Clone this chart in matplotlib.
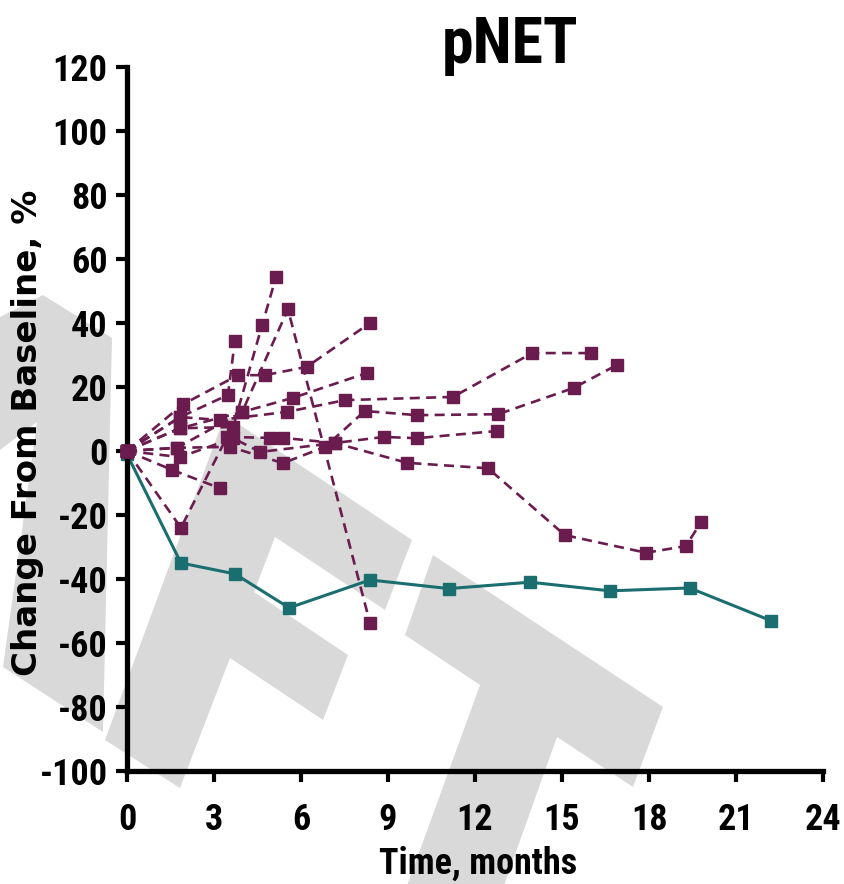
import matplotlib
matplotlib.use("Agg")
import matplotlib.pyplot as plt
from matplotlib.patches import Polygon
from matplotlib import font_manager as fm

W, H = 845, 884

# ---- data ----
x_ticks = [0, 3, 6, 9, 12, 15, 18, 21, 24]
y_ticks = [-100, -80, -60, -40, -20, 0, 20, 40, 60, 80, 100, 120]

median_x = [0, 1.86, 3.72, 5.59, 8.38, 11.1, 13.9, 16.65, 19.4, 22.2]
median_y = [-1, -35, -38.4, -49, -40.3, -43, -41, -43.7, -42.8, -53]

pt_x = [
    [0, 1.93, 3.83, 4.76, 6.2, 8.38],
    [0, 1.83, 3.48, 3.72],
    [0, 1.83, 3.66, 4.66, 5.14],
    [0, 1.72, 3.97, 5.55, 8.38],
    [0, 1.83, 3.2, 5.5, 7.52, 11.24, 13.97, 16.0],
    [0, 1.83, 3.97, 5.72, 8.28],
    [0, 1.55, 3.2],
    [0, 1.86, 3.45, 4.93, 5.38, 7.17, 8.86, 9.99, 12.76],
    [0, 1.72, 3.55, 5.38, 6.83, 8.2, 10.0, 12.8, 15.4, 16.9],
    [0, 1.83, 3.66, 4.59, 7.17, 9.66, 12.45, 15.1, 17.9, 19.27, 19.8],
]
pt_y = [
    [0, 14.6, 23.7, 23.7, 26.3, 40],
    [0, 10.6, 17.5, 34.4],
    [0, 7.1, 7.5, 39.4, 54.4],
    [0, 1.0, 12.2, 44.3, -53.8],
    [0, 10.6, 9.7, 12.2, 15.9, 16.9, 30.6, 30.6],
    [0, 7.1, 12.2, 16.6, 24.4],
    [0, -5.9, -11.6],
    [0, -24, 4.4, 4.1, 4.1, 2.5, 4.4, 4.0, 6.25],
    [0, 1.0, 1.3, -3.8, 1.3, 12.5, 11.2, 11.5, 19.7, 26.9],
    [0, -1.9, 4.0, -0.3, 2.5, -3.7, -5.4, -26.3, -31.8, -29.7, -22.2],
]

PURPLE = "#6B1C4E"
TEAL = "#1B6E70"

# pick a condensed bold face if one is installed
names = {f.name for f in fm.fontManager.ttflist}
cond = None
for cand in ["Liberation Sans Narrow", "Arial Narrow", "Roboto Condensed",
             "Open Sans Condensed", "DejaVu Sans Condensed"]:
    if cand in names:
        cond = cand
        break
if cond is None:
    narrow_faces = [f for f in fm.fontManager.ttflist
                    if isinstance(f.stretch, str) and "condensed" in f.stretch]
    if narrow_faces:
        cond = narrow_faces[0].name
if cond is None:
    NARROW = ["Liberation Sans", "DejaVu Sans"]
    scale = 0.86
else:
    NARROW = [cond, "Liberation Sans", "DejaVu Sans"]
    scale = 1.0

fig = plt.figure(figsize=(W / 100, H / 100), dpi=100)

# ---- background watermark shapes (decoration, image px) ----
wm_shapes = [
    [(0, 317), (43, 295), (112, 338), (103, 732), (3, 667), (37, 422), (0, 450)],
    [(225, 415), (412, 540), (385, 610), (275, 537), (254, 592), (348, 655),
     (323, 720), (230, 658), (180, 788), (105, 740)],
    [(433, 555), (663, 707), (633, 787), (557, 737), (497, 905), (400, 905),
     (480, 685), (405, 635)],
]
for shp in wm_shapes:
    pts = [(px / W, 1 - py / H) for px, py in shp]
    fig.add_artist(Polygon(pts, closed=True, transform=fig.transFigure,
                           facecolor="#D9D9D9", edgecolor="none", zorder=-1))

ax = fig.add_axes([127 / W, 1 - 771 / H, (823 - 127) / W, (771 - 67) / H])
ax.patch.set_alpha(0)

ax.plot(median_x, median_y, color=TEAL, lw=2.2, marker="s", markersize=8,
        markerfacecolor=TEAL, markeredgecolor=TEAL, clip_on=False, zorder=2)

for xs, ys in zip(pt_x, pt_y):
    ax.plot(xs, ys, color=PURPLE, lw=1.9, ls=(0, (3.8, 2.4)), marker="s",
            markersize=8, markerfacecolor=PURPLE, markeredgecolor=PURPLE,
            clip_on=False, zorder=3)

ax.set_xlim(0, 24)
ax.set_ylim(-100, 120)
ax.set_xticks(x_ticks)
ax.set_yticks(y_ticks)
tfs = 26 * scale
ax.set_xticklabels([str(v) for v in x_ticks], family=NARROW,
                   fontweight="bold", fontsize=tfs)
ax.set_yticklabels([str(v) for v in y_ticks], family=NARROW,
                   fontweight="bold", fontsize=tfs)

for s in ("top", "right"):
    ax.spines[s].set_visible(False)
for s in ("left", "bottom"):
    ax.spines[s].set_linewidth(3.8)
    ax.spines[s].set_color("black")
ax.tick_params(axis="both", direction="out", length=8, width=3, color="black")
ax.tick_params(axis="y", pad=6)
ax.tick_params(axis="x", pad=14)

fig.text(478 / W, 1 - 864 / H, "Time, months", family=NARROW,
         fontweight="bold", fontsize=26 * scale, ha="center", va="center")
fig.text(28 / W, 1 - 433 / H, "Change From Baseline, %",
         family=["DejaVu Sans"], fontweight="bold", fontsize=24.5,
         ha="center", va="center", rotation=90)
fig.text(510 / W, 1 - 63 / H, "pNET", family=NARROW, fontweight="bold",
         fontsize=46 * scale, ha="center", va="baseline")

fig.savefig("out.png", dpi=100)
